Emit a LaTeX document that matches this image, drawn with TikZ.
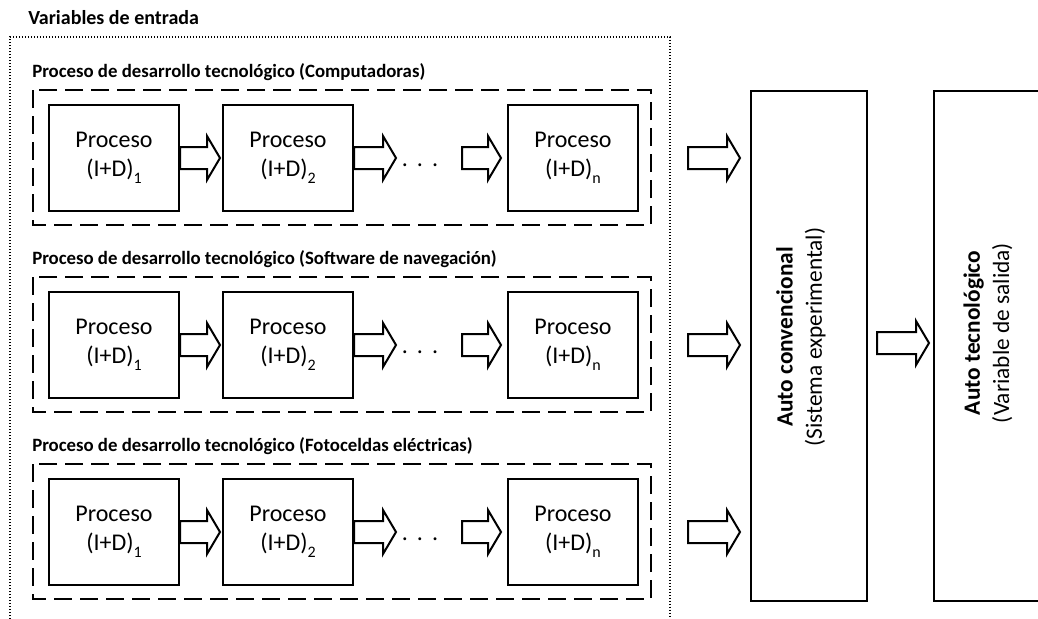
\documentclass[tikz,border=0pt]{standalone}
\usepackage{fontspec}
\setmainfont{Carlito}
\usetikzlibrary{calc}
% lowered index after (I+D)
\newcommand\idx[1]{\raisebox{-0.3em}{\fontsize{12}{12}\selectfont #1}}
\begin{document}
\begin{tikzpicture}[x=0.75pt,y=-0.75pt,
  heading/.style={anchor=west, inner sep=0pt, font=\fontsize{15}{18}\selectfont\bfseries},
  rowheading/.style={heading, font=\fontsize{14.1}{17}\selectfont\bfseries},
  procbox/.style={draw, line width=1.5pt, anchor=north west, align=center,
    minimum width=97.5pt, minimum height=79.5pt, inner sep=0pt,
    font=\fontsize{18}{22}\selectfont},
  bigbox/.style={draw, line width=1.5pt, anchor=north west,
    minimum width=87pt, minimum height=382.5pt, inner sep=0pt},
  sidetext/.style={rotate=90, align=center, inner sep=0pt,
    font=\fontsize{17.5}{22}\selectfont},
  groupline/.style={line width=1.6pt, dash pattern=on 13.5pt off 6pt},
  dotline/.style={line width=1.1pt, dash pattern=on 1.1pt off 1.15pt},
  arrowline/.style={draw, line width=1.5pt, fill=white, line join=miter},
  pics/barrow/.style={code={
    \draw[arrowline] (0,-11) -- ({#1-13},-11) -- ({#1-13},-22) -- (#1,0)
      -- ({#1-13},22) -- ({#1-13},11) -- (0,11) -- cycle;}},
  dotsnode/.style={anchor=base, inner sep=0pt, font=\fontsize{18}{20}\selectfont}
]
\useasboundingbox (0,0) rectangle (1038,618);

% input variables frame
\node[heading] (inputs) at (28,18) {Variables de entrada};
\draw[dotline] (10,625) -- (10,37) -- (670,37) -- (670,625);

% three development chains
\foreach \r/\ttl in {0/{Computadoras},1/{Software de navegación},2/{Fotoceldas eléctricas}} {
  \pgfmathsetmacro\yt{104+187*\r}
  \node[rowheading] (title\r) at (32,\yt-32) {Proceso de desarrollo tecnológico (\ttl)};
  \draw[groupline] (33,\yt-14) rectangle (651,\yt+121);
  \node[procbox] (a\r) at (48,\yt)  {Proceso\\(I+D)\idx{1}};
  \node[procbox] (b\r) at (222,\yt) {Proceso\\(I+D)\idx{2}};
  \node[procbox] (n\r) at (507,\yt) {Proceso\\(I+D)\idx{n}};
  \pic at (a\r.east) {barrow=40};
  \pic at (b\r.east) {barrow=42};
  \node[dotsnode] (dots\r) at ($(b\r.east)+(66,8)$) {.\hspace{6.75pt}.\hspace{6.75pt}.};
  \pic at ($(n\r.west)+(-45,0)$) {barrow=39};
  \pic at ($(n\r.east)+(49,0)$) {barrow=52};
}

% experimental system and output
\node[bigbox] (conv) at (750,90) {};
\node[sidetext] (convtext) at (801,337) {\textbf{Auto convencional}\\(Sistema experimental)};
\node[bigbox] (tech) at (933,90) {};
\node[sidetext] (techtext) at (988,333) {\textbf{Auto tecnológico}\\(Variable de salida)};
\pic at ($(conv.east)+(9,-3)$) {barrow=52};
\end{tikzpicture}
\end{document}
